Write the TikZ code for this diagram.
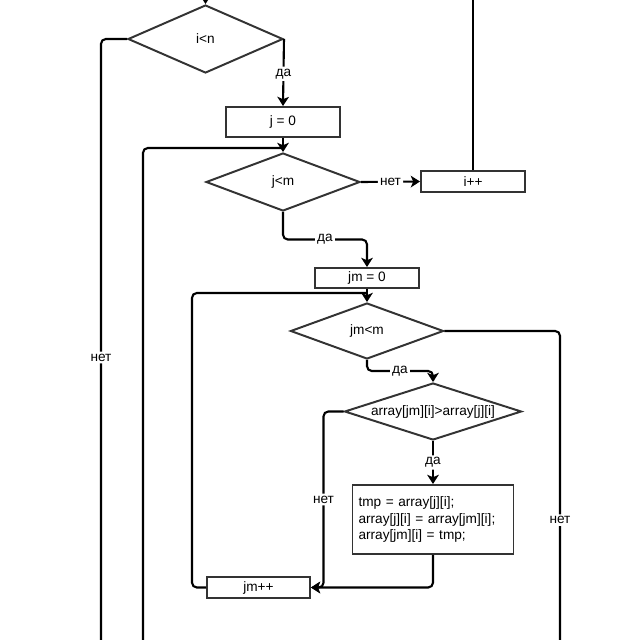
\documentclass[tikz,border=0pt]{standalone}
\usepackage{fontspec}
\setmainfont{Liberation Sans}
\usetikzlibrary{shapes.geometric,arrows.meta,calc}

\begin{document}
\begin{tikzpicture}[
    x=0.025cm, y=-0.025cm,
    font=\fontsize{9.7}{11.6}\selectfont,
    box/.style={rectangle, draw=black!80, line width=1.4pt, inner sep=0pt},
    cond/.style={diamond, draw=black!80, line width=1.4pt, inner sep=0pt, aspect=3},
    line/.style={draw=black, line width=1.5pt, rounded corners=0.12cm},
    arrow/.style={line, -{Stealth[length=0.23cm, width=0.29cm, inset=0.06cm]}},
    lbl/.style={fill=white, inner sep=1.5pt}
]
    \useasboundingbox (0,0) rectangle (640,640);

    % outer loop over i
    \node[cond, minimum width=155*0.025cm, minimum height=68*0.025cm] (in) at (205.5,39) {i<n};
    \node[box, minimum width=114*0.025cm, minimum height=30*0.025cm] (j0) at (283,122) {j = 0};
    \node[cond, minimum width=154*0.025cm, minimum height=58*0.025cm] (jm) at (283,182) {j<m};
    \node[box, minimum width=104*0.025cm, minimum height=21*0.025cm] (ipp) at (473,181.5) {i++};

    % inner loop over jm
    \node[box, minimum width=104*0.025cm, minimum height=20*0.025cm] (jm0) at (367,278) {jm = 0};
    \node[cond, minimum width=153*0.025cm, minimum height=56*0.025cm] (jmm) at (367,331) {jm<m};
    \node[cond, minimum width=177*0.025cm, minimum height=57*0.025cm] (cmp) at (433,411.5) {array[jm][i]>array[j][i]};
    \node[box, minimum width=161*0.025cm, minimum height=69*0.025cm, text width=149*0.025cm, align=left] (swap) at (433,519.5)
        {tmp = array[j][i];\\ array[j][i] = array[jm][i];\\ array[jm][i] = tmp;};
    \node[box, minimum width=103*0.025cm, minimum height=21*0.025cm] (jmpp) at (258.5,587.5) {jm++};

    % free ends at the picture edge
    \coordinate (topin) at (205.5,0);
    \coordinate (topipp) at (473,0);
    \coordinate (botL) at (101,640);
    \coordinate (botJ) at (143,640);
    \coordinate (botR) at (560,640);
    \coordinate (jjoin) at (283,148);
    \coordinate (jmjoin) at (367,293);

    \draw[arrow] (topin) -- (in.north);
    \draw[line] (in.west) -| node[lbl, pos=0.765] {нет} (botL);
    \draw[arrow] (in.east) -- node[lbl, pos=0.52] {да} (j0.north);
    \draw[arrow] (j0.south) -- (jm.north);
    \draw[line] (botJ) |- (jjoin);
    \draw[arrow] (jm.east) -- node[lbl] {нет} (ipp.west);
    \draw[line] (ipp.north) -- (topipp);
    \draw[arrow] (jm.south) |- ($(jm.south)!0.5!(jm0.north)$) node[lbl] {да} -| (jm0.north);

    \draw[arrow] (jm0.south) -- (jmm.north);
    \draw[line] (jmpp.west) -- ++(-14,0) |- (jmjoin);
    \draw[line] (jmm.east) -| node[lbl, pos=0.806] {нет} (botR);
    \draw[arrow] (jmm.south) |- ($(jmm.south)!0.5!(cmp.north)$) node[lbl] {да} -| (cmp.north);
    \draw[arrow] (cmp.west) -- ++(-20,0) |- node[lbl, pos=0.25] {нет} (jmpp.east);
    \draw[arrow] (cmp.south) -- node[lbl] {да} (swap.north);
    \draw[arrow] (swap.south) |- (jmpp.east);
\end{tikzpicture}
\end{document}
